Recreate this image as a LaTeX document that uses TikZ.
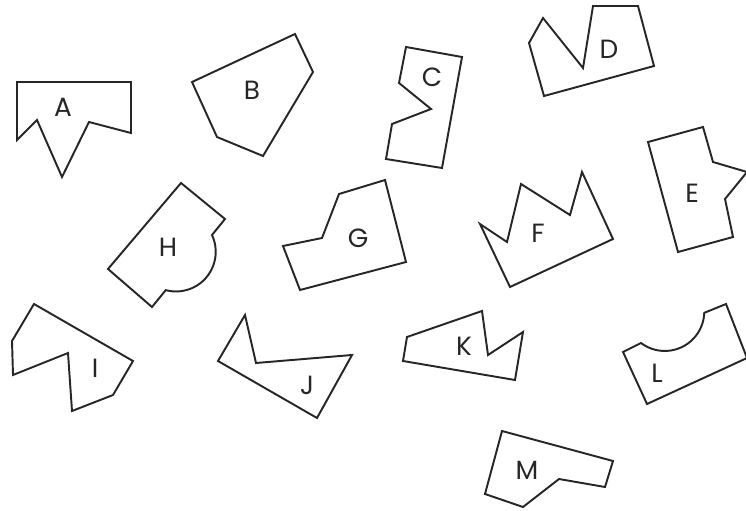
\documentclass[tikz,border=0pt]{standalone}
\usepackage{fontspec}
\setmainfont{Poppins}
\usepackage{tikz}

\begin{document}
\begin{tikzpicture}[
    x=0.02cm, y=-0.02cm,
    piece/.style={draw=black!85, line width=1.1pt, line join=miter},
    tag/.style={font=\fontsize{15}{17}\selectfont, text=black!85, inner sep=0pt},
]
    \useasboundingbox (0,0) rectangle (746,510);
    \clip (0,0) rectangle (746,510);

    % Row 1
    \draw[piece] (17,82) -- (131,82) -- (131,133) -- (89,122) -- (62,177) -- (37,120) -- (17,140) -- cycle;
    \node[tag] (labA) at (63,107) {A};

    \draw[piece] (295,34) -- (313,72) -- (263,156) -- (217,137) -- (192,82) -- cycle;
    \node[tag] (labB) at (252,90) {B};

    \draw[piece] (406,47) -- (462,57) -- (442,168) -- (386,159) -- (392,124) -- (431,109) -- (399,83) -- cycle;
    \node[tag] (labC) at (432,77) {C};

    \draw[piece] (593,6) -- (638,6) -- (654,66) -- (544,96) -- (529,43) -- (543,18) -- (583,68) -- cycle;
    \node[tag] (labD) at (609,49) {D};

    \draw[piece] (648,142) -- (703,127) -- (713,162) -- (747,172) -- (725,199) -- (733,237) -- (678,252) -- cycle;
    \node[tag] (labE) at (692,193) {E};

    % Row 2
    \draw[piece] (181,183) -- (225,219) -- (212,235)
        arc[start angle=-25, end angle=105, radius=39.7] -- (152,307) -- (108,269) -- cycle;
    \node[tag] (labH) at (168,247) {H};

    \draw[piece] (385,180) -- (406,262) -- (300,290) -- (283,246) -- (322,238) -- (339,194) -- cycle;
    \node[tag] (labG) at (358,238) {G};

    \draw[piece] (582,172) -- (613,239) -- (510,287) -- (480,224) -- (507,242) -- (521,184) -- (570,215) -- cycle;
    \node[tag] (labF) at (538,233) {F};

    % Row 3
    \draw[piece] (34,304) -- (133,361) -- (113,395) -- (72,411) -- (68,353) -- (13,375) -- (12,341) -- cycle;
    \node[tag] (labI) at (95,368) {I};

    \draw[piece] (245,315) -- (256,363) -- (352,355) -- (317,418) -- (218,361) -- cycle;
    \node[tag] (labJ) at (307,385) {J};

    \draw[piece] (482,311) -- (488,355) -- (523,332) -- (515,380) -- (403,361) -- (407,337) -- cycle;
    \node[tag] (labK) at (464,346) {K};

    \draw[piece] (726,304) -- (747,358) -- (647,404) -- (623,352) -- (641,343)
        arc[start angle=127, end angle=2, radius=39.5] -- cycle;
    \node[tag] (labL) at (657,373) {L};

    % Bottom
    \draw[piece] (502,431) -- (613,461) -- (605,487) -- (559,479) -- (523,507) -- (485,494) -- cycle;
    \node[tag] (labM) at (527,470) {M};
\end{tikzpicture}
\end{document}
